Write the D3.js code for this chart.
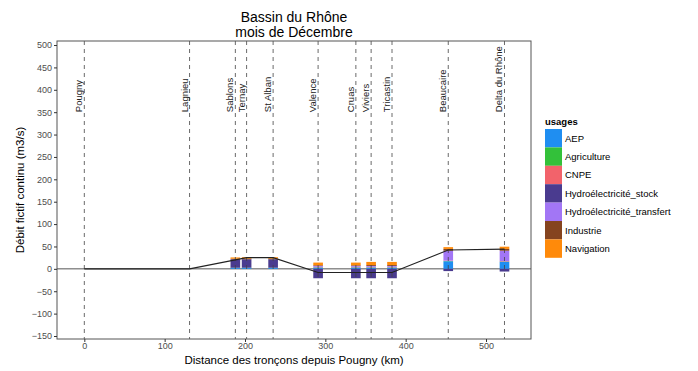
<!DOCTYPE html>
<html>
<head>
<meta charset="utf-8">
<script src="https://cdn.jsdelivr.net/npm/d3@7"></script>
<style>
  body { margin: 0; background: #ffffff; }
  svg { font-family: "Liberation Sans", Arial, sans-serif; }
</style>
</head>
<body>
<div id="chart"></div>
<script>
// Sites along the river (km from Pougny)
var sites = ['Pougny', 'Lagnieu', 'Sablons', 'Ternay', 'St Alban', 'Valence', 'Cruas', 'Viviers', 'Tricastin', 'Beaucaire', 'Delta du Rhône'];
var site_km = [0, 131, 188, 202, 235, 291, 338, 357, 383, 453, 523];

// Cumulated fictive flow (line)
var debit_cumule = [0, 0, 20, 25, 25, -8, -8, -8, -8, 42, 44];

// Usage flows per site (m3/s), stacked bars
var usages = ['AEP', 'Agriculture', 'CNPE', 'Hydroélectricité_stock', 'Hydroélectricité_transfert', 'Industrie', 'Navigation'];
var aep          = [0, 0, 2, 2, 2, 3, 3, 3, 3, 17, 16];
var agriculture  = [0, 0, 0.5, 0.5, 0.5, 0.5, 0.5, 0.5, 0.5, 0.5, 0.5];
var cnpe         = [0, 0, 0, 0, 0, 1, 1, 1, 1, 1, 1];
var hydro_stock  = [0, 0, 19, 19, 19, -21, -21, -21, -21, -5, -6];
var hydro_transf = [0, 0, 0, 0, 0, 2, 2, 2, 2, 22, 23];
var industrie    = [0, 0, 1, 1, 1, 1.5, 1.5, 2, 2, 4, 4];
var navigation   = [0, 0, 3, 3.5, 3.5, 6, 6, 7, 7, 4, 5];

var y_ticks = [-150, -100, -50, 0, 50, 100, 150, 200, 250, 300, 350, 400, 450, 500];
var x_ticks = [0, 100, 200, 300, 400, 500];

var colors = ['#1f8ef1', '#33c13a', '#f2636b', '#4a3b8f', '#a276f5', '#85441f', '#ff8a0a'];

var width = 698, height = 371;
var panel = { left: 57, right: 531, top: 41, bottom: 339 };

var svg = d3.select('#chart').append('svg')
    .attr('width', width).attr('height', height);

var x = d3.scaleLinear().domain([-34, 556]).range([panel.left, panel.right]);
var y = d3.scaleLinear().domain([-156.7, 509]).range([panel.bottom, panel.top]);

// Panel background
svg.append('rect')
    .attr('x', panel.left).attr('y', panel.top)
    .attr('width', panel.right - panel.left).attr('height', panel.bottom - panel.top)
    .attr('fill', '#ffffff');

// Zero line
svg.append('line')
    .attr('x1', panel.left).attr('x2', panel.right)
    .attr('y1', y(0)).attr('y2', y(0))
    .style('stroke', '#555555').style('stroke-width', 1);

// Stacked bars (positive values stack upward, negative downward)
var series = [aep, agriculture, cnpe, hydro_stock, hydro_transf, industrie, navigation];
var bar_w = x(12) - x(0);
for (var s = 0; s < sites.length; s++) {
    var pos = 0, neg = 0;
    for (var u = 0; u < usages.length; u++) {
        var v = series[u][s];
        if (v === 0) continue;
        var y0, y1;
        if (v > 0) { y0 = pos; y1 = pos + v; pos = y1; }
        else { y0 = neg; y1 = neg + v; neg = y1; }
        svg.append('rect')
            .attr('x', x(site_km[s]) - bar_w / 2)
            .attr('y', y(Math.max(y0, y1)))
            .attr('width', bar_w)
            .attr('height', Math.abs(y(y0) - y(y1)))
            .attr('fill', colors[u]);
    }
}

// Dashed site lines and labels
sites.forEach(function(name, i) {
    var xp = x(site_km[i]);
    svg.append('line')
        .attr('x1', xp).attr('x2', xp)
        .attr('y1', panel.top).attr('y2', panel.bottom)
        .style('stroke', '#444444').style('stroke-width', 0.8)
        .style('stroke-dasharray', '4,4');

    svg.append('text')
        .attr('transform', 'translate(' + (xp - 2) + ',' + y(350) + ') rotate(-90)')
        .style('font-size', '9.5px')
        .style('fill', '#222222')
        .text(name);
});

// Cumulated line
var line = d3.line()
    .x(function(d, i) { return x(site_km[i]); })
    .y(function(d) { return y(d); });

svg.append('path')
    .datum(debit_cumule)
    .attr('d', line)
    .attr('fill', 'none')
    .style('stroke', '#222222').style('stroke-width', 1.1);

// Panel border
svg.append('rect')
    .attr('x', panel.left).attr('y', panel.top)
    .attr('width', panel.right - panel.left).attr('height', panel.bottom - panel.top)
    .attr('fill', 'none').style('stroke', '#555555').style('stroke-width', 1);

// Axes
var y_axis = d3.axisLeft(y).tickValues(y_ticks).tickSize(3).tickPadding(2);
var gy = svg.append('g').attr('transform', 'translate(' + panel.left + ',0)').call(y_axis);
var x_axis = d3.axisBottom(x).tickValues(x_ticks).tickSize(3).tickPadding(1);
var gx = svg.append('g').attr('transform', 'translate(0,' + panel.bottom + ')').call(x_axis);

[gx, gy].forEach(function(g) {
    g.select('.domain').remove();
    g.selectAll('.tick line').style('stroke', '#333333');
    g.selectAll('.tick text')
        .style('font-size', '9px')
        .style('fill', '#4d4d4d')
        .style('font-family', '"Liberation Sans", Arial, sans-serif');
});

// Titles
svg.append('text')
    .attr('x', (panel.left + panel.right) / 2).attr('y', 22)
    .attr('text-anchor', 'middle')
    .style('font-size', '14px')
    .text('Bassin du Rhône');
svg.append('text')
    .attr('x', (panel.left + panel.right) / 2).attr('y', 37)
    .attr('text-anchor', 'middle')
    .style('font-size', '14px')
    .text('mois de Décembre');

svg.append('text')
    .attr('x', (panel.left + panel.right) / 2).attr('y', 364)
    .attr('text-anchor', 'middle')
    .style('font-size', '11.5px')
    .text('Distance des tronçons depuis Pougny (km)');

svg.append('text')
    .attr('transform', 'translate(24,' + (panel.top + panel.bottom) / 2 + ') rotate(-90)')
    .attr('text-anchor', 'middle')
    .style('font-size', '11.5px')
    .text('Débit fictif continu (m3/s)');

// Legend
var legend = svg.append('g').attr('transform', 'translate(545,129)');
legend.append('text')
    .attr('x', 0).attr('y', -4)
    .style('font-size', '9.5px')
    .style('font-weight', 'bold')
    .text('usages');

usages.forEach(function(name, i) {
    legend.append('rect')
        .attr('x', 0).attr('y', i * 18.4)
        .attr('width', 17).attr('height', 18.4)
        .attr('fill', colors[i]);
    legend.append('text')
        .attr('x', 20).attr('y', i * 18.4 + 12.5)
        .style('font-size', '9.5px')
        .text(name);
});
</script>
</body>
</html>
